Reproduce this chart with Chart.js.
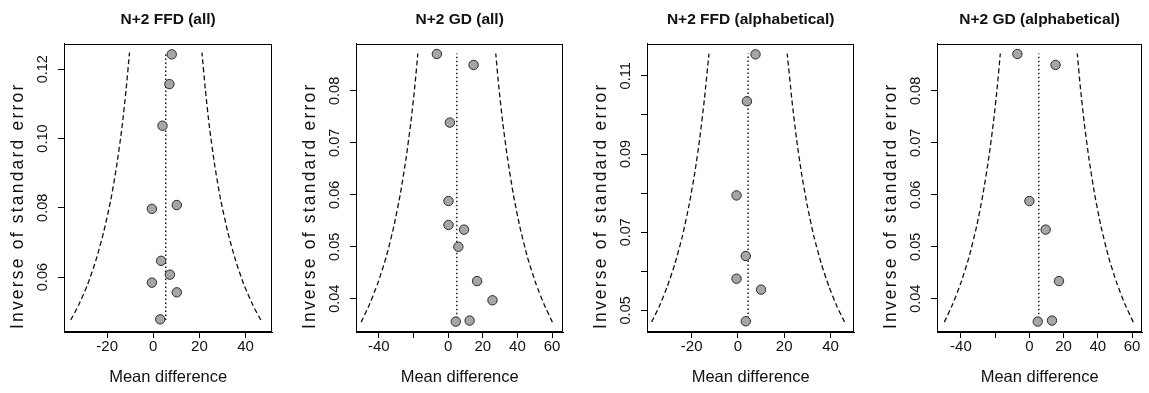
<!DOCTYPE html>
<html><head><meta charset="utf-8">
<script src="https://cdn.jsdelivr.net/npm/chart.js@4"></script>
<style>
html,body{margin:0;padding:0;background:#fff;width:1149px;height:393px;overflow:hidden}
canvas{position:absolute;top:0}
</style></head><body>
<canvas id="c1"></canvas><canvas id="c2"></canvas><canvas id="c3"></canvas><canvas id="c4"></canvas>
<script>
// ---------- Panel 1: N+2 FFD (all)
const p1Title = 'N+2 FFD (all)';
const p1X = [8.0, 7.0, 4.0, -0.6, 10.2, 3.4, 7.2, -0.6, 10.2, 3.0];
const p1Y = [0.1243, 0.1157, 0.1037, 0.0797, 0.0808, 0.0647, 0.0607, 0.0584, 0.0556, 0.0478];
const p1Center = 5.4;
const p1FunnelY = [0.0476, 0.052, 0.058, 0.065, 0.073, 0.082, 0.092, 0.103, 0.114, 0.1248];
const p1FunnelLeft = [-35.8, -32.3, -28.4, -24.8, -21.5, -18.5, -15.9, -13.6, -11.8, -10.3];
const p1FunnelRight = [46.6, 43.1, 39.2, 35.6, 32.3, 29.3, 26.7, 24.4, 22.6, 21.1];
const p1XTicks = [-20, 0, 20, 40];
const p1XTickLabels = ['-20', '0', '20', '40'];
const p1YTicks = [0.06, 0.08, 0.10, 0.12];
const p1YTickLabels = ['0.06', '0.08', '0.10', '0.12'];

// ---------- Panel 2: N+2 GD (all)
const p2Title = 'N+2 GD (all)';
const p2X = [-6.5, 14.7, 1.0, 0.2, 0.2, 9.2, 5.9, 16.7, 25.6, 4.4, 12.4];
const p2Y = [0.0871, 0.0850, 0.0739, 0.0588, 0.0542, 0.0533, 0.0500, 0.0434, 0.0397, 0.0356, 0.0358];
const p2Center = 5.0;
const p2FunnelY = [0.0355, 0.039, 0.043, 0.048, 0.054, 0.060, 0.067, 0.074, 0.081, 0.0872];
const p2FunnelLeft = [-50.2, -45.3, -40.6, -35.8, -31.3, -27.7, -24.3, -21.5, -19.2, -17.5];
const p2FunnelRight = [60.2, 55.3, 50.6, 45.8, 41.3, 37.7, 34.3, 31.5, 29.2, 27.5];
const p2XTicks = [-40, -20, 0, 20, 40, 60];
const p2XTickLabels = ['-40', '', '0', '20', '40', '60'];
const p2YTicks = [0.04, 0.05, 0.06, 0.07, 0.08];
const p2YTickLabels = ['0.04', '0.05', '0.06', '0.07', '0.08'];

// ---------- Panel 3: N+2 FFD (alphabetical)
const p3Title = 'N+2 FFD (alphabetical)';
const p3X = [7.6, 3.9, -0.6, 3.4, -0.6, 10.0, 3.4];
const p3Y = [0.1155, 0.1035, 0.0794, 0.0639, 0.0581, 0.0553, 0.0472];
const p3Center = 4.4;
const p3FunnelY = [0.0470, 0.051, 0.056, 0.062, 0.069, 0.077, 0.085, 0.094, 0.104, 0.1157];
const p3FunnelLeft = [-37.3, -34.0, -30.6, -27.2, -24.0, -21.1, -18.7, -16.5, -14.5, -12.5];
const p3FunnelRight = [46.1, 42.8, 39.4, 36.0, 32.8, 29.9, 27.5, 25.3, 23.3, 21.3];
const p3XTicks = [-20, 0, 20, 40];
const p3XTickLabels = ['-20', '0', '20', '40'];
const p3YTicks = [0.05, 0.06, 0.07, 0.08, 0.09, 0.10, 0.11];
const p3YTickLabels = ['0.05', '', '0.07', '', '0.09', '', '0.11'];

// ---------- Panel 4: N+2 GD (alphabetical)
const p4Title = 'N+2 GD (alphabetical)';
const p4X = [-7.0, 15.3, 0.0, 9.5, 17.3, 4.9, 13.2];
const p4Y = [0.0871, 0.0850, 0.0588, 0.0533, 0.0434, 0.0356, 0.0358];
const p4Center = 5.5;
const p4FunnelY = [0.0355, 0.039, 0.043, 0.048, 0.054, 0.060, 0.067, 0.074, 0.081, 0.0872];
const p4FunnelLeft = [-49.7, -44.8, -40.1, -35.3, -30.8, -27.2, -23.8, -21.0, -18.7, -17.0];
const p4FunnelRight = [60.7, 55.8, 51.1, 46.3, 41.8, 38.2, 34.8, 32.0, 29.7, 28.0];
const p4XTicks = [-40, -20, 0, 20, 40, 60];
const p4XTickLabels = ['-40', '', '0', '20', '40', '60'];
const p4YTicks = [0.04, 0.05, 0.06, 0.07, 0.08];
const p4YTickLabels = ['0.04', '0.05', '0.06', '0.07', '0.08'];

const xAxisTitle = 'Mean difference';
const yAxisTitle = 'Inverse of standard error';

const FONT = '"Liberation Sans", Arial, Helvetica, sans-serif';
const INK = '#111';

const boxPlugin = {
  id: 'box',
  beforeDraw(chart) {
    const s = chart.scales.y;
    if (!s._spaced) {
      const orig = s.drawTitle.bind(s);
      s.drawTitle = function () {
        const ctx = this.ctx; ctx.save(); ctx.translate(0, 18); ctx.letterSpacing = '2.2px'; orig(); ctx.restore();
      };
      s._spaced = true;
    }
  },
  afterDraw(chart) {
    const a = chart.chartArea, ctx = chart.ctx;
    ctx.save();
    ctx.strokeStyle = '#000'; ctx.lineWidth = 1;
    ctx.strokeRect(Math.round(a.left) + 0.5, Math.round(a.top) + 0.5, Math.round(a.right - a.left) - 1, Math.round(a.bottom - a.top) - 1);
    ctx.restore();
  }
};

function lookup(vals, labels) {
  return (v) => { const i = vals.findIndex(t => Math.abs(t - v) < 1e-9); return i < 0 ? '' : labels[i]; };
}

function makePanel(id, boxLeft, boxWidth, p) {
  const cv = document.getElementById(id);
  cv.width = boxWidth + 68; cv.height = 393;
  cv.style.left = (boxLeft - 64) + 'px';
  const pts = p.x.map((v, i) => ({ x: v, y: p.y[i] }));
  const fl = p.fy.map((v, i) => ({ x: p.fl[i], y: v }));
  const fr = p.fy.map((v, i) => ({ x: p.fr[i], y: v }));
  const yLo = p.fy[0], yHi = p.fy[p.fy.length - 1];
  const mid = [{ x: p.c, y: yLo }, { x: p.c, y: yHi }];
  new Chart(cv, {
    type: 'scatter',
    data: { datasets: [
      { data: pts, pointRadius: 4.7, backgroundColor: '#a6a6a6', borderColor: '#2a2a2a', borderWidth: 1, showLine: false },
      { data: mid, showLine: true, pointRadius: 0, borderColor: '#111', borderWidth: 1.4, borderDash: [1.5, 2.5] },
      { data: fl, showLine: true, pointRadius: 0, borderColor: '#111', borderWidth: 1.3, borderDash: [5, 3], tension: 0.2 },
      { data: fr, showLine: true, pointRadius: 0, borderColor: '#111', borderWidth: 1.3, borderDash: [5, 3], tension: 0.2 }
    ] },
    options: {
      responsive: false, animation: false, devicePixelRatio: 1,
      layout: { padding: { left: 0, right: 4, top: 0, bottom: 0 } },
      plugins: {
        legend: { display: false }, tooltip: { enabled: false },
        title: { display: true, text: p.title, fullSize: false, color: INK,
          font: { family: FONT, size: 15.5, weight: 'bold' }, padding: { top: 10, bottom: 15 } }
      },
      scales: {
        x: {
          type: 'linear', min: p.xmin, max: p.xmax,
          afterBuildTicks: s => { s.ticks = p.xt.map(v => ({ value: v })); },
          afterFit: s => { s.height = 61; },
          ticks: { callback: lookup(p.xt, p.xl), autoSkip: false, maxRotation: 0, padding: 0, color: INK,
            font: { family: FONT, size: 15 } },
          grid: { display: true, drawOnChartArea: false, drawTicks: true, tickLength: 6, color: '#000', lineWidth: 1 },
          border: { display: true, color: '#000', width: 1 },
          title: { display: true, text: xAxisTitle, color: INK, font: { family: FONT, size: 16.5 }, padding: { top: 0, bottom: 6 } }
        },
        y: {
          type: 'linear', min: p.ymin, max: p.ymax,
          afterBuildTicks: s => { s.ticks = p.yt.map(v => ({ value: v })); },
          afterFit: s => { s.width = 64; },
          ticks: { callback: lookup(p.yt, p.yl), autoSkip: false, minRotation: 90, maxRotation: 90, crossAlign: 'center',
            padding: 1, color: INK, font: { family: FONT, size: 14.5 } },
          grid: { display: true, drawOnChartArea: false, drawTicks: true, tickLength: 6, color: '#000', lineWidth: 1 },
          border: { display: true, color: '#000', width: 1 },
          title: { display: true, text: yAxisTitle, color: INK, font: { family: FONT, size: 17.5 }, padding: { top: 8, bottom: 0 } }
        }
      }
    },
    plugins: [boxPlugin]
  });
}

makePanel('c1', 64, 210, { title: p1Title, x: p1X, y: p1Y, c: p1Center, fy: p1FunnelY, fl: p1FunnelLeft, fr: p1FunnelRight,
  xt: p1XTicks, xl: p1XTickLabels, yt: p1YTicks, yl: p1YTickLabels, xmin: -38.7, xmax: 51.6, ymin: 0.04415, ymax: 0.1274 });
makePanel('c2', 356, 209, { title: p2Title, x: p2X, y: p2Y, c: p2Center, fy: p2FunnelY, fl: p2FunnelLeft, fr: p2FunnelRight,
  xt: p2XTicks, xl: p2XTickLabels, yt: p2YTicks, yl: p2YTickLabels, xmin: -53.2, xmax: 66.5, ymin: 0.0336, ymax: 0.0891 });
makePanel('c3', 647, 209, { title: p3Title, x: p3X, y: p3Y, c: p3Center, fy: p3FunnelY, fl: p3FunnelLeft, fr: p3FunnelRight,
  xt: p3XTicks, xl: p3XTickLabels, yt: p3YTicks, yl: p3YTickLabels, xmin: -39.3, xmax: 50.3, ymin: 0.04446, ymax: 0.11825 });
makePanel('c4', 937, 207, { title: p4Title, x: p4X, y: p4Y, c: p4Center, fy: p4FunnelY, fl: p4FunnelLeft, fr: p4FunnelRight,
  xt: p4XTicks, xl: p4XTickLabels, yt: p4YTicks, yl: p4YTickLabels, xmin: -54.0, xmax: 66.0, ymin: 0.0336, ymax: 0.0891 });
</script>
</body></html>
